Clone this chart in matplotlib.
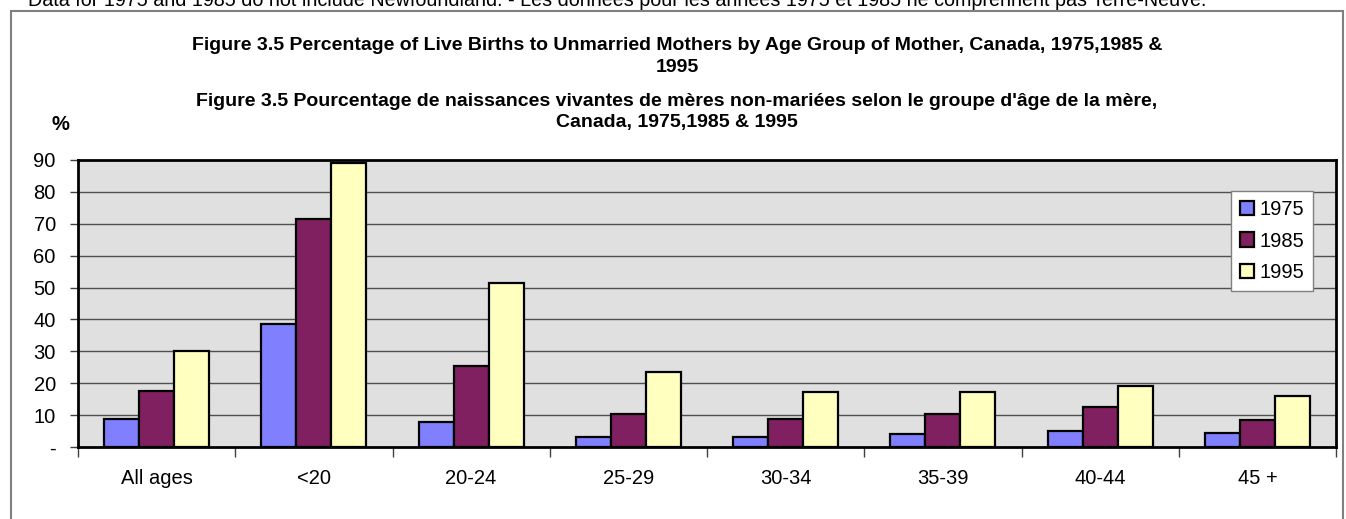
import matplotlib
matplotlib.use("Agg")
import matplotlib.pyplot as plt
from matplotlib.patches import Rectangle
import numpy as np

plt.rcParams['font.family'] = ['Liberation Sans', 'DejaVu Sans']

# Data
groups = ['All ages', '<20', '20-24', '25-29', '30-34', '35-39', '40-44', '45 +']
years = ['1975', '1985', '1995']
v1975 = [8.9, 38.7, 7.9, 3.2, 3.1, 4.2, 5.0, 4.3]
v1985 = [17.5, 71.6, 25.3, 10.3, 8.8, 10.3, 12.7, 8.6]
v1995 = [30.0, 89.1, 51.3, 23.4, 17.2, 17.4, 19.0, 16.1]
colors = ['#8080FF', '#802060', '#FFFFC0']
yticks = [0, 10, 20, 30, 40, 50, 60, 70, 80, 90]
ylabels = ['-', '10', '20', '30', '40', '50', '60', '70', '80', '90']

W, H = 1346, 519
fig = plt.figure(figsize=(W / 100, H / 100), dpi=100)

# outer chart frame
fig.patches.append(Rectangle((11 / W, -0.1), (1343 - 11) / W, 1.1 - 10.5 / H,
                             transform=fig.transFigure, fill=False,
                             edgecolor='#808080', linewidth=1.5))

# note above the frame, cut by the top edge as in the source
fig.text(28 / W, 1 - 6 / H,
         "Data for 1975 and 1985 do not include Newfoundland. - Les données pour les années 1975 et 1985 ne comprennent pas Terre-Neuve.",
         fontsize=14.2, va='baseline', ha='left')

# titles
title_lines = [
    ("Figure 3.5 Percentage of Live Births to Unmarried Mothers by Age Group of Mother, Canada, 1975,1985 &", 45),
    ("1995", 67),
    ("Figure 3.5 Pourcentage de naissances vivantes de mères non-mariées selon le groupe d'âge de la mère,", 101),
    ("Canada, 1975,1985 & 1995", 123),
]
for txt, y in title_lines:
    fig.text(677 / W, 1 - y / H, txt, fontsize=14, fontweight='bold',
             ha='center', va='center')
fig.text(60 / W, 1 - 124 / H, '%', fontsize=14.5, fontweight='bold',
         ha='center', va='center')

ax = fig.add_axes([78 / W, (H - 447) / H, (1336 - 78) / W, (447 - 160) / H])
ax.set_facecolor('#E0E0E0')

x = np.arange(len(groups))
bw = 0.223
for i, (vals, yr) in enumerate(zip([v1975, v1985, v1995], years)):
    ax.bar(x + (i - 1) * bw, vals, bw, color=colors[i], edgecolor='black',
           linewidth=1.6, label=yr, zorder=3)

ax.set_xlim(-0.5, len(groups) - 0.5)
ax.set_ylim(0, 90)
ax.set_yticks(yticks)
ax.set_yticklabels(ylabels, fontsize=14.5)
for yv in yticks[1:-1]:
    ax.axhline(yv, color='#505050', linewidth=1.0, zorder=1)

ax.set_xticks(np.arange(-0.5, len(groups), 1.0))
ax.set_xticklabels([])
ax.set_xticks(x, minor=True)
ax.set_xticklabels(groups, minor=True, fontsize=14.5)
ax.tick_params(axis='x', which='major', direction='out', length=7,
               width=1, color='#404040')
ax.tick_params(axis='x', which='minor', length=0, pad=16)
ax.tick_params(axis='y', direction='out', length=6, width=1,
               color='#404040', pad=10)

for s in ax.spines.values():
    s.set_color('black')
    s.set_linewidth(2)

leg = ax.legend(loc='upper left', bbox_to_anchor=((1231 - 78) / (1336 - 78), (447 - 191) / (447 - 160)),
                fontsize=14.5, frameon=True, fancybox=False, framealpha=1,
                edgecolor='#808080', handlelength=0.7, handleheight=0.7,
                handletextpad=0.25, labelspacing=0.62, borderpad=0.45,
                borderaxespad=0)
leg.get_frame().set_linewidth(1)

plt.savefig('out.png', dpi=100)
plt.close()
